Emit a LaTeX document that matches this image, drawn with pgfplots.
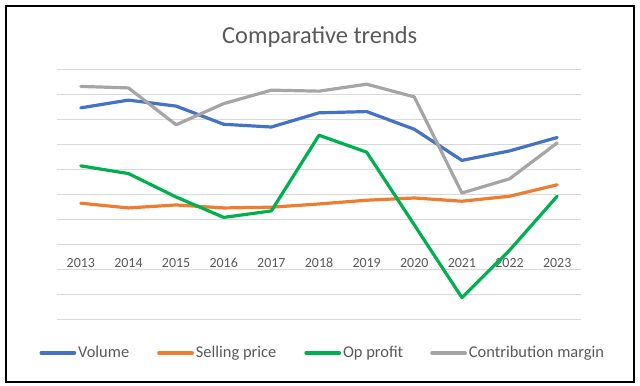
\documentclass[border=0pt]{standalone}
\usepackage{pgfplots}
\pgfplotsset{compat=1.18}
\usepackage{fontspec}
\setmainfont{Carlito}
\definecolor{cblue}{HTML}{4472C4}
\definecolor{corange}{HTML}{ED7D31}
\definecolor{cgreen}{HTML}{00B050}
\definecolor{cgray}{HTML}{A5A5A5}
\definecolor{ctext}{HTML}{595959}
\definecolor{cgrid}{HTML}{D9D9D9}
\begin{document}
\begin{tikzpicture}[x=1bp,y=1bp]
\useasboundingbox (0,0) rectangle (640,385);
\draw[black, line width=2bp] (6,3.5) rectangle (634,379);
\node[text=ctext, font=\fontsize{24.5}{26}\selectfont, anchor=base, inner sep=0pt] at (319.7,341.7) {Comparative trends};
\begin{axis}[
  at={(57bp,66bp)}, anchor=south west,
  scale only axis, width=524bp, height=249bp,
  xmin=-0.5, xmax=10.5, ymin=-2, ymax=8,
  xtick={0,...,10},
  xticklabels={2013,2014,2015,2016,2017,2018,2019,2020,2021,2022,2023},
  xticklabel style={anchor=south, yshift=49.8bp, inner ysep=1pt, text=ctext, font=\fontsize{14}{16}\selectfont},
  ytick={-2,...,8}, yticklabels={},
  ymajorgrids, major grid style={cgrid, line width=1bp},
  axis line style={draw=none},
  tick style={draw=none},
  clip=false,
  every axis plot/.append style={line width=3.2bp, line join=round, line cap=round},
  legend columns=4,
  legend style={draw=none, fill=none, at={(axis description cs:-0.0338,-0.1365)}, anchor=west,
    inner sep=0pt,
    font=\fontsize{16.5}{18}\selectfont, text=ctext,
    nodes={inner xsep=1bp},
    /tikz/column 1/.style={column sep=1bp},
    /tikz/column 2/.style={column sep=27bp},
    /tikz/column 3/.style={column sep=1bp},
    /tikz/column 4/.style={column sep=27bp},
    /tikz/column 5/.style={column sep=1bp},
    /tikz/column 6/.style={column sep=26bp},
    /tikz/column 7/.style={column sep=1bp}},
  legend cell align=left,
  legend image code/.code={\draw[#1, line width=3.2bp, line cap=round] (1.5bp,0bp) -- (35bp,0bp);},
]
\addplot[cblue] coordinates {(0,6.48) (1,6.79) (2,6.55) (3,5.82) (4,5.71) (5,6.28) (6,6.33) (7,5.62) (8,4.37) (9,4.75) (10,5.29)};
\addlegendentry{Volume}
\addplot[corange] coordinates {(0,2.65) (1,2.46) (2,2.58) (3,2.46) (4,2.49) (5,2.62) (6,2.77) (7,2.86) (8,2.73) (9,2.93) (10,3.39)};
\addlegendentry{Selling price}
\addplot[cgreen] coordinates {(0,4.15) (1,3.84) (2,2.90) (3,2.08) (4,2.34) (5,5.38) (6,4.70) (7,1.78) (8,-1.14) (9,0.76) (10,2.93)};
\addlegendentry{Op profit}
\addplot[cgray] coordinates {(0,7.34) (1,7.28) (2,5.80) (3,6.65) (4,7.19) (5,7.15) (6,7.43) (7,6.92) (8,3.06) (9,3.63) (10,5.07)};
\addlegendentry{Contribution margin}
\end{axis}
\end{tikzpicture}
\end{document}
